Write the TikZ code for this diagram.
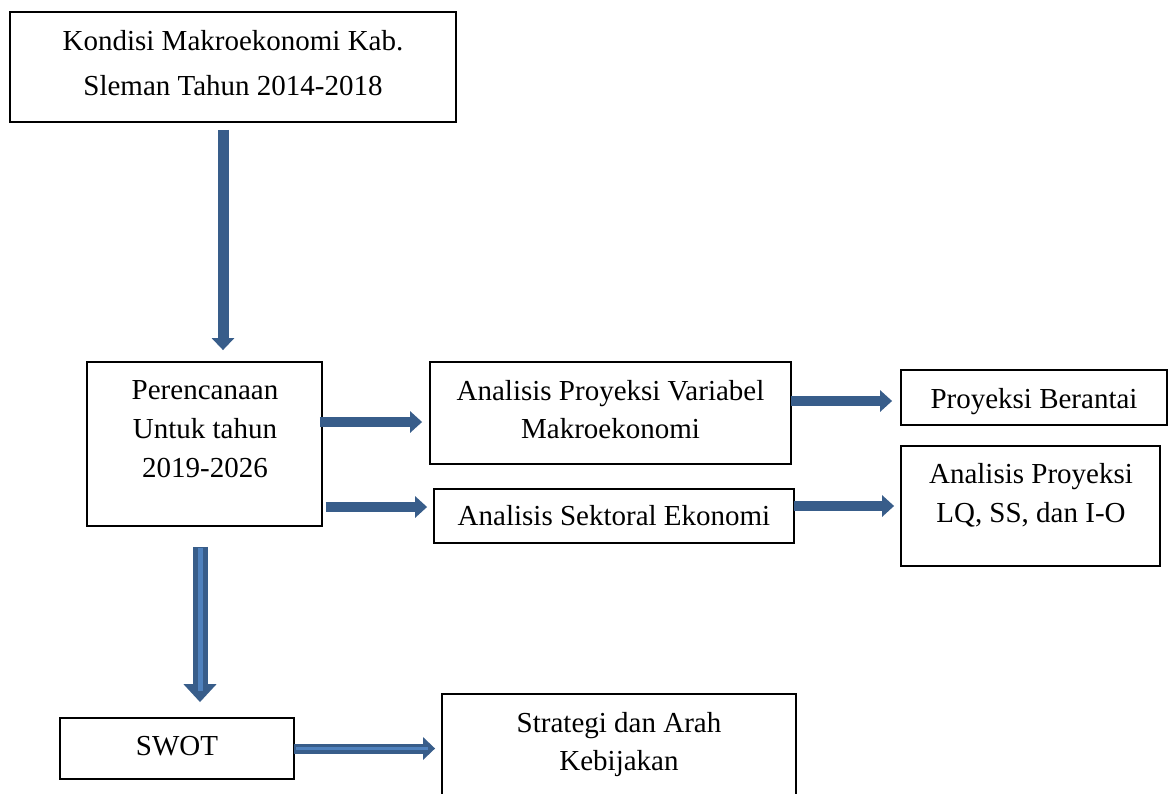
\documentclass[tikz,border=0pt]{standalone}
\usepackage{fontspec}
\setmainfont{Liberation Serif}
\usetikzlibrary{arrows.meta}
\definecolor{arr}{RGB}{56,93,138}
\definecolor{arrlight}{RGB}{79,129,189}
\begin{document}
\begin{tikzpicture}[x=1pt,y=-1pt,
  box/.style={draw=black, line width=1.8pt, rectangle, inner sep=0pt},
  txt/.style={align=center, inner sep=0pt, font=\fontsize{29}{39}\selectfont},
  arrv/.style={draw=arr, line width=11pt, -{Triangle[width=22pt,length=12pt]}},
  arrh/.style={draw=arr, line width=10pt, -{Triangle[width=21pt,length=12pt]}},
  arrbig/.style={draw=arr, line width=15pt, -{Triangle[width=32pt,length=18pt]}},
  arrbigh/.style={draw=arr, line width=10pt, -{Triangle[width=22pt,length=12pt]}},
  stripe/.style={draw=arrlight, line width=5pt}
]
\useasboundingbox (0,0) rectangle (1168,793);
\clip (0,0) rectangle (1168,793);

% boxes
\node[box, minimum width=446pt, minimum height=110pt] (k) at (233,67) {};
\node[box, minimum width=235pt, minimum height=164pt] (p) at (204.5,444) {};
\node[box, minimum width=361pt, minimum height=102pt] (a) at (610.5,413) {};
\node[box, minimum width=266pt, minimum height=55pt] (b) at (1034,397.5) {};
\node[box, minimum width=360pt, minimum height=54pt] (s) at (614,516) {};
\node[box, minimum width=259pt, minimum height=120pt] (l) at (1030.5,506) {};
\node[box, minimum width=234pt, minimum height=61pt] (w) at (177,748.5) {};
\node[box, minimum width=354pt, minimum height=110pt] (t) at (619,749) {};

% texts
\node[txt, font=\fontsize{29}{45}\selectfont] (kt) at (233,63.5) {\strut Kondisi Makroekonomi Kab.\\\strut Sleman Tahun 2014-2018};
\node[txt] (pt) at (205,431) {\strut Perencanaan\\\strut Untuk tahun\\\strut 2019-2026};
\node[txt, font=\fontsize{29}{38}\selectfont] (at) at (610.5,411.4) {\strut Analisis Proyeksi Variabel\\\strut Makroekonomi};
\node[txt] (bt) at (1034,400.2) {\strut Proyeksi Berantai};
\node[txt] (st) at (614,517.2) {\strut Analisis Sektoral Ekonomi};
\node[txt] (lt) at (1031,494.7) {\strut Analisis Proyeksi\\\strut LQ, SS, dan I-O};
\node[txt] (wt) at (177,747.2) {\strut SWOT};
\node[txt, font=\fontsize{29}{38}\selectfont] (tt) at (619,743.4) {\strut Strategi dan Arah\\\strut Kebijakan};

% connectors
\draw[arrv, shorten <=7pt, shorten >=11pt] ([xshift=-10pt]k.south) -- ([xshift=-10pt]k.south |- p.north);
\draw[arrh, shorten <=-3pt, shorten >=7pt] ([yshift=22pt]p.east) -- ([yshift=22pt]p.east -| a.west);
\draw[arrh, shorten <=3pt, shorten >=6pt] ([yshift=-63pt]p.east) -- ([yshift=-63pt]p.east -| s.west);
\draw[arrh, shorten <=-1pt, shorten >=8pt] ([yshift=12pt]a.east) -- ([yshift=12pt]a.east -| b.west);
\draw[arrh, shorten <=-1pt, shorten >=6pt] ([yshift=10pt]s.east) -- ([yshift=10pt]s.east -| l.west);

\draw[arrbig, shorten <=20pt, shorten >=15pt] ([xshift=-4.5pt]p.south) -- ([xshift=-4.5pt]p.south |- w.north);
\draw[stripe, shorten <=21pt, shorten >=26pt] ([xshift=-4.5pt]p.south) -- ([xshift=-4.5pt]p.south |- w.north);

\draw[arrbigh, shorten <=-1pt, shorten >=6pt] (w.east) -- (w.east -| t.west);
\draw[stripe, line width=2.5pt, shorten <=1pt, shorten >=13pt] (w.east) -- (w.east -| t.west);
\end{tikzpicture}
\end{document}
